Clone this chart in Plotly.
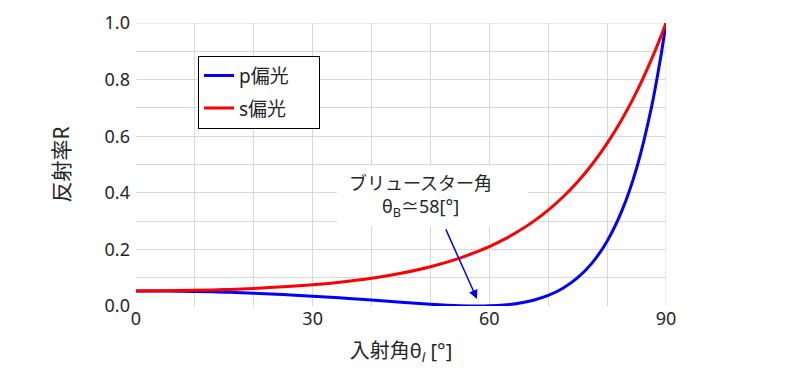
import plotly.graph_objects as go

# incidence angle [deg]
angle = [0, 5, 10, 15, 20, 25, 30, 35, 40, 45, 50, 55, 58, 60, 62.5, 65, 67.5, 70,
         72.5, 75, 77.5, 80, 82.5, 85, 87.5, 89, 90]
# reflectance
r_p = [0.0533, 0.0526, 0.0512, 0.0487, 0.0451, 0.0405, 0.0348, 0.0282, 0.0210, 0.0133,
       0.0062, 0.0011, 0.0000, 0.0006, 0.0035, 0.0097, 0.0204, 0.0373,
       0.0628, 0.1000, 0.1534, 0.2292, 0.3360, 0.4865, 0.6988, 0.8667, 1.0]
r_s = [0.0533, 0.0538, 0.0553, 0.0580, 0.0620, 0.0676, 0.0751, 0.0851, 0.0982, 0.1155,
       0.1385, 0.1690, 0.1930, 0.2099, 0.2353, 0.2648, 0.2991, 0.3389,
       0.3852, 0.4391, 0.5017, 0.5745, 0.6589, 0.7566, 0.8697, 0.9457, 1.0]

x_ticks = [0, 30, 60, 90]
y_ticks = [0.0, 0.2, 0.4, 0.6, 0.8, 1.0]

FONT = "Noto Sans, Noto Sans CJK JP"
GRID = "#d9d9d9"
TXT = "#262626"
PAD = "\u00a0" * 5

fig = go.Figure()
fig.add_trace(go.Scatter(x=angle, y=r_p, mode="lines", name="p偏光" + PAD,
                         line=dict(color="#0000ff", width=3, shape="spline"),
                         legendgroup="p"))
fig.add_trace(go.Scatter(x=angle, y=r_s, mode="lines", name="s偏光" + PAD,
                         line=dict(color="#ff0000", width=3, shape="spline"),
                         legendgroup="s"))

# white box behind annotation text (covers gridlines)
fig.add_shape(type="rect", xref="x", yref="y", x0=34.1, x1=66.6, y0=0.283, y1=0.495,
              fillcolor="white", line=dict(width=0), layer="between")

fig.add_annotation(x=48.3, y=0.389, xref="x", yref="y",
                   text="ブリュースター角<br>θ<sub>B</sub>≃58[°]", showarrow=False,
                   font=dict(family=FONT, size=18, color=TXT), align="center")
fig.add_annotation(x=57.9, y=0.025, ax=52.5, ay=0.276, xref="x", yref="y",
                   axref="x", ayref="y", text="", showarrow=True,
                   arrowhead=2, arrowsize=1.2, arrowwidth=1.5, arrowcolor="#0000ff")

fig.update_layout(
    width=800, height=370,
    margin=dict(l=128, r=142, t=15, b=72),
    paper_bgcolor="white", plot_bgcolor="white",
    font=dict(family=FONT, size=18, color=TXT),
    showlegend=True,
    legend=dict(x=0.117, y=0.885, xanchor="left", yanchor="top",
                bgcolor="white", bordercolor="black", borderwidth=1,
                font=dict(family=FONT, size=19, color=TXT),
                tracegroupgap=5, traceorder="grouped"),
    xaxis=dict(range=[0, 90], tickvals=x_ticks, ticktext=[str(v) for v in x_ticks],
               showgrid=True, gridcolor=GRID, gridwidth=1, automargin=False,
               minor=dict(dtick=10, tick0=0, showgrid=True, gridcolor=GRID, gridwidth=1),
               zeroline=False, showline=False, ticks="",
               tickfont=dict(size=18),
               title=dict(text="入射角θ<sub><i>i</i></sub> [°]", font=dict(size=20), standoff=14)),
    yaxis=dict(range=[0, 1], tickvals=y_ticks, ticktext=[f"{v:.1f}" for v in y_ticks],
               showgrid=True, gridcolor=GRID, gridwidth=1, automargin=False,
               minor=dict(dtick=0.1, tick0=0, showgrid=True, gridcolor=GRID, gridwidth=1),
               zeroline=False, showline=False, ticks="", ticklabelstandoff=5,
               tickfont=dict(size=18),
               title=dict(text="反射率R", font=dict(size=21), standoff=29)),
)
fig.add_shape(type="line", xref="x", yref="y", x0=90, x1=90, y0=0, y1=1,
              line=dict(color=GRID, width=1), layer="below")
fig.add_shape(type="line", xref="x", yref="y", x0=0, x1=90, y0=1, y1=1,
              line=dict(color=GRID, width=1), layer="below")

fig.write_html("out.html")
